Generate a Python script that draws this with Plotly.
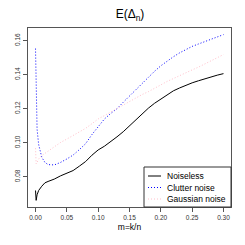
import plotly.graph_objects as go

m = [0, 0.001, 0.0025, 0.005, 0.01, 0.015, 0.02, 0.03, 0.04, 0.05, 0.06, 0.07,
     0.08, 0.09, 0.10, 0.11, 0.12, 0.13, 0.14, 0.15, 0.16, 0.17, 0.18, 0.19,
     0.20, 0.21, 0.22, 0.23, 0.24, 0.25, 0.26, 0.27, 0.28, 0.29, 0.30]

noiseless = [0.0720, 0.0662, 0.0695, 0.0720, 0.0745, 0.0765, 0.0773, 0.0787,
             0.0806, 0.0820, 0.0837, 0.0863, 0.0890, 0.0927, 0.0958, 0.0980,
             0.1005, 0.1035, 0.1065, 0.1100, 0.1138, 0.1170, 0.1203, 0.1232,
             0.1258, 0.1283, 0.1305, 0.1322, 0.1338, 0.1352, 0.1364, 0.1376,
             0.1387, 0.1397, 0.1406]

clutter = [0.1553, 0.1250, 0.1080, 0.0990, 0.0915, 0.0885, 0.0872, 0.0870,
           0.0885, 0.0905, 0.0928, 0.0960, 0.0995, 0.1048, 0.1097, 0.1140,
           0.1172, 0.1200, 0.1238, 0.1275, 0.1312, 0.1348, 0.1385, 0.1420,
           0.1452, 0.1480, 0.1505, 0.1528, 0.1548, 0.1566, 0.1580, 0.1594,
           0.1607, 0.1620, 0.1635]

gaussian = [0.0968, 0.0876, 0.0885, 0.0905, 0.0925, 0.0938, 0.0950, 0.0975,
            0.1002, 0.1022, 0.1042, 0.1062, 0.1085, 0.1112, 0.1140, 0.1160,
            0.1180, 0.1200, 0.1225, 0.1245, 0.1265, 0.1283, 0.1300, 0.1322,
            0.1340, 0.1360, 0.1378, 0.1396, 0.1412, 0.1428, 0.1444, 0.1462,
            0.1482, 0.1500, 0.1518]

series_names = ["Noiseless", "Clutter noise", "Gaussian noise"]
series_colors = ["black", "blue", "pink"]
series_dash = ["solid", "1px,2px", "1px,2px"]

x_ticks = [0.00, 0.05, 0.10, 0.15, 0.20, 0.25, 0.30]
y_ticks = [0.08, 0.10, 0.12, 0.14, 0.16]

W = H = 245
ML, MR, MT, MB = 28, 14, 28, 38
PW, PH = W - ML - MR, H - MT - MB

fig = go.Figure()
for ys, name, col, dash in zip([noiseless, clutter, gaussian], series_names,
                               series_colors, series_dash):
    fig.add_trace(go.Scatter(x=m, y=ys, mode="lines", name=name,
                             showlegend=False, hoverinfo="skip",
                             line=dict(color=col, width=1, dash=dash)))

font = "Liberation Sans, Arial, sans-serif"
ymin = min(noiseless)
ymax = max(clutter)
pad = 0.04 * (ymax - ymin)


def px_x(p):
    return (p - ML) / PW


def px_y(p):
    return 1 - (p - MT) / PH


# compact R-style legend in the bottom-right corner
leg_left, leg_top = 144, 167
row_y = [176, 187.5, 199]
shapes = [dict(type="rect", xref="paper", yref="paper",
               x0=px_x(leg_left), x1=1, y0=0, y1=px_y(leg_top),
               line=dict(color="#333", width=1), fillcolor="white",
               layer="above")]
annotations = []
for yy, name, col, dash in zip(row_y, series_names, series_colors, series_dash):
    shapes.append(dict(type="line", xref="paper", yref="paper",
                       x0=px_x(148), x1=px_x(161), y0=px_y(yy), y1=px_y(yy),
                       line=dict(color=col, width=1, dash=dash), layer="above"))
    annotations.append(dict(xref="paper", yref="paper", x=px_x(165),
                            y=px_y(yy), text=name, showarrow=False,
                            xanchor="left", yanchor="middle",
                            font=dict(size=8.5, family=font, color="black")))

fig.update_layout(
    width=W, height=H,
    margin=dict(l=ML, r=MR, t=MT, b=MB, autoexpand=False),
    paper_bgcolor="white", plot_bgcolor="white",
    font=dict(family=font, color="black"),
    title=dict(text="E(Δ<sub>n</sub>)", x=130 / W,
               xanchor="center", y=1 - 14 / H, yanchor="middle",
               font=dict(size=12, family=font)),
    showlegend=False,
    hovermode=False,
    shapes=shapes,
    annotations=annotations,
)
fig.update_xaxes(range=[-0.012, 0.312], tickvals=x_ticks,
                 ticktext=[f"{v:.2f}" for v in x_ticks],
                 ticks="outside", ticklen=4, tickcolor="#555",
                 showline=True, linecolor="#555", mirror=True, linewidth=1,
                 showgrid=False, zeroline=False, automargin=False,
                 tickfont=dict(size=6.5, color="#333"),
                 title=dict(text="m=k/n", font=dict(size=8.5), standoff=4))
fig.update_yaxes(range=[ymin - pad, ymax + pad], tickvals=y_ticks,
                 ticktext=[f"{v:.2f}" for v in y_ticks],
                 ticks="outside", ticklen=4, tickcolor="#555", tickangle=-90,
                 showline=True, linecolor="#555", mirror=True, linewidth=1,
                 showgrid=False, zeroline=False, automargin=False,
                 tickfont=dict(size=6.5, color="#333"))

fig.write_html("out.html",
               config={"displayModeBar": False, "staticPlot": True},
               post_script="document.body.style.margin='0';"
                           "document.body.style.padding='0';")
